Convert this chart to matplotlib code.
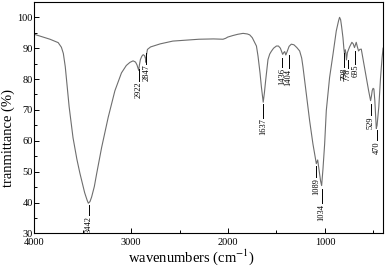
import matplotlib
matplotlib.use("Agg")
import matplotlib.pyplot as plt
from matplotlib.ticker import MultipleLocator

# FTIR spectrum (wavenumber in cm-1, transmittance in %)
wavenumber = [4000, 3900, 3838, 3790, 3753, 3720, 3700, 3680, 3660, 3640,
              3600, 3560, 3529, 3480, 3455, 3442, 3425, 3408, 3380, 3357,
              3305, 3237, 3168, 3100, 3050, 3013, 2980, 2955, 2940, 2928,
              2922, 2915, 2905, 2890, 2876, 2862, 2852, 2847, 2842, 2832,
              2800, 2700, 2570, 2400, 2300, 2150, 2052, 2025, 2003, 1950,
              1900, 1845, 1800, 1776, 1750, 1725, 1707, 1691, 1670, 1656,
              1645, 1637, 1625, 1612, 1588, 1570, 1553, 1530, 1501, 1480,
              1460, 1445, 1436, 1425, 1415, 1404, 1390, 1370, 1347, 1320,
              1290, 1261, 1240, 1227, 1192, 1158, 1124, 1105, 1095, 1089,
              1082, 1075, 1060, 1045, 1034, 1020, 1003, 986, 952, 917,
              883, 860, 849, 838, 828, 814, 805, 798, 790, 784,
              778, 768, 746, 722, 708, 695, 685, 677, 665, 653,
              640, 625, 610, 598, 573, 549, 535, 529, 520, 512,
              503, 495, 485, 477, 470, 462, 453, 444, 426, 410,
              400]
transmittance = [94.5, 93.5, 92.9, 92.3, 91.8, 90.3, 88.3, 84.0, 77.5, 71.0,
                 61.0, 54.0, 49.5, 43.2, 40.8, 39.8, 40.3, 41.8, 45.2, 49.2,
                 57.8, 67.6, 76.2, 82.0, 84.4, 85.4, 85.9, 85.5, 84.6, 83.4,
                 82.8, 84.5, 86.3, 87.4, 87.9, 87.6, 86.6, 85.4, 87.8, 89.6,
                 90.4, 91.4, 92.3, 92.7, 92.9, 93.0, 92.9, 93.2, 93.6, 94.1,
                 94.5, 94.8, 94.6, 94.3, 93.4, 91.8, 90.7, 87.5, 82.0, 77.5,
                 74.5, 72.5, 75.5, 79.5, 86.3, 88.1, 89.0, 90.0, 90.7, 90.7,
                 90.0, 88.8, 88.0, 88.6, 88.9, 87.8, 88.9, 90.6, 91.3, 91.1,
                 90.2, 89.1, 86.8, 84.0, 75.2, 66.5, 59.0, 55.5, 53.6, 52.6,
                 53.2, 53.8, 50.5, 47.0, 45.5, 51.0, 59.0, 69.8, 80.5, 88.0,
                 95.6, 98.8, 100.0, 99.2, 97.0, 93.4, 90.0, 88.2, 89.5, 88.4,
                 86.2, 88.6, 90.4, 91.9, 91.4, 90.2, 91.2, 91.9, 90.4, 89.1,
                 89.6, 89.7, 87.0, 84.8, 80.5, 76.2, 74.0, 73.0, 74.5, 76.3,
                 77.0, 76.8, 73.0, 68.0, 64.0, 65.0, 68.0, 71.0, 80.5, 87.0,
                 90.0]

# labelled bands
band_text = ["3442", "2922", "2847", "1637", "1436", "1404", "1089", "1034",
             "798", "778", "695", "529", "470"]
# where each label sits along the x axis (spread a little, as in the original)
label_x = [3440, 2922, 2843, 1637, 1443, 1376, 1089, 1034, 800, 763, 686, 529, 466]
# leader line (top, bottom) in transmittance units
leader_top = [39.1, 83.3, 88.5, 72.0, 86.9, 87.8, 52.0, 44.3, 88.5, 86.2, 89.1, 72.0, 63.6]
leader_bot = [35.9, 79.5, 85.0, 67.5, 84.0, 83.6, 48.2, 39.8, 84.0, 83.6, 85.0, 68.2, 60.1]

plt.rcParams["font.family"] = ["Liberation Serif", "DejaVu Serif"]
plt.rcParams["mathtext.fontset"] = "stix"

fig = plt.figure(figsize=(3.85, 2.68), dpi=100, facecolor="white")
ax = fig.add_axes([0.089, 0.129, 0.906, 0.864])

ax.plot(wavenumber, transmittance, color="#6e6e6e", linewidth=0.8)

for x, txt, top, bot in zip(label_x, band_text, leader_top, leader_bot):
    ax.plot([x, x], [top, bot], color="black", linewidth=0.7)
    ax.text(x, bot - 0.3, txt, rotation=90, ha="center", va="top",
            fontsize=6, color="black")

ax.set_xlim(4000, 400)
ax.set_ylim(30, 105)
ax.xaxis.set_major_locator(MultipleLocator(1000))
ax.xaxis.set_minor_locator(MultipleLocator(500))
ax.set_yticks([30, 40, 50, 60, 70, 80, 90, 100])
ax.yaxis.set_minor_locator(MultipleLocator(5))
ax.tick_params(which="both", direction="in", top=False, right=False,
               labelsize=7.5, width=0.7)
ax.tick_params(axis="y", pad=1.0)
ax.tick_params(axis="x", pad=3.0)
ax.tick_params(which="major", length=3.5)
ax.tick_params(which="minor", length=2)
for s in ax.spines.values():
    s.set_linewidth(0.8)

ax.set_xlabel("wavenumbers (cm$^{-1}$)", fontsize=10.5)
ax.xaxis.set_label_coords(0.45, -0.058)
ax.set_ylabel("tranmittance (%)", fontsize=10.5)
ax.yaxis.set_label_coords(-0.055, 0.41)

fig.savefig("out.png", dpi=100, facecolor="white")
